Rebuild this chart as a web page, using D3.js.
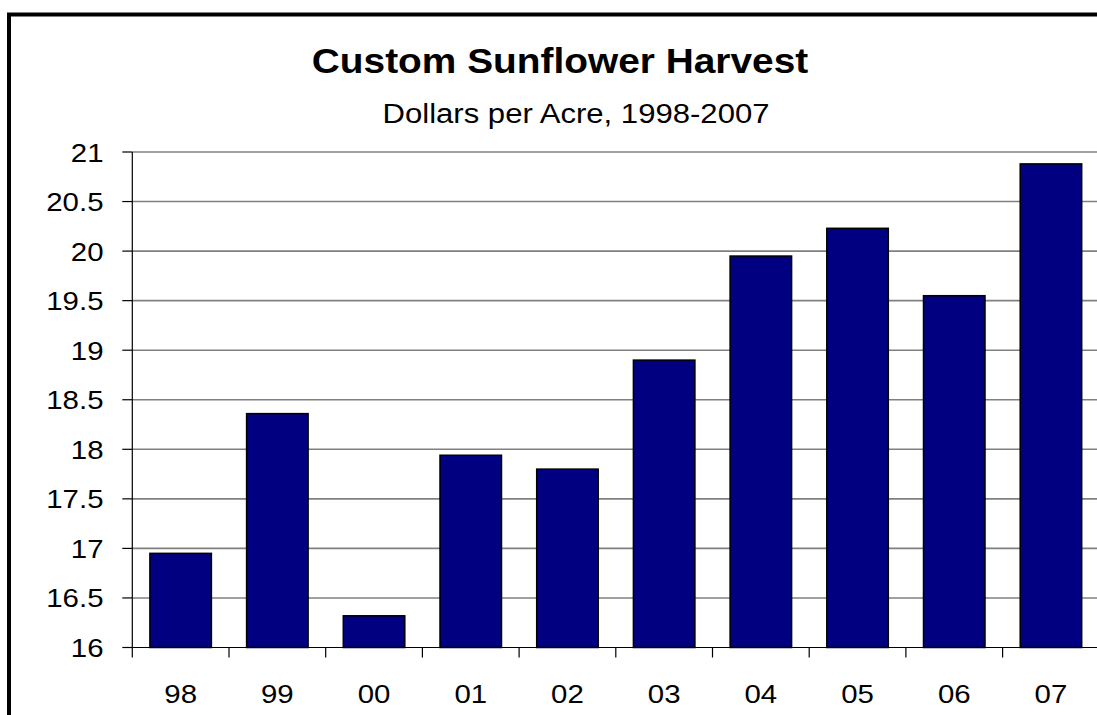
<!DOCTYPE html>
<meta charset="utf-8">
<head>
<script src="https://d3js.org/d3.v7.min.js"></script>
<style>
  body { margin: 0; background: #fff; }
  svg { display: block; font-family: "Liberation Sans", Arial, sans-serif; }
  .grid line { stroke: #808080; stroke-width: 1.6px; }
  .bar { fill: #000080; stroke: #000; stroke-width: 1.5px; }
</style>
</head>
<body>
<svg width="1097" height="715"></svg>
<script>
// data
var years = ["98", "99", "00", "01", "02", "03", "04", "05", "06", "07"];
var dollars = [16.95, 18.36, 16.32, 17.94, 17.80, 18.90, 19.95, 20.23, 19.55, 20.88];
var yTicks = [16, 16.5, 17, 17.5, 18, 18.5, 19, 19.5, 20, 20.5, 21];

var svg = d3.select("svg");
var stretch = 1.11; // text in the original is a bit wide

var plotLeft = 132.3, plotRight = 1099.3, plotTop = 152, plotBottom = 647.5;
var pad = 0.364;

var x = d3.scaleBand().domain(years).range([plotLeft, plotRight])
    .paddingInner(pad).paddingOuter(pad / 2);
var y = d3.scaleLinear().domain([16, 21]).range([plotBottom, plotTop]);
var step = x.step();

// frame
svg.append("rect")
    .attr("x", 9).attr("y", 14.5)
    .attr("width", 1200).attr("height", 800)
    .attr("fill", "none").attr("stroke", "#000").attr("stroke-width", 4);

// titles
function wideText(sel, tx, ty, size, weight, anchor, str) {
  sel.append("text")
      .attr("transform", "translate(" + tx + "," + ty + ") scale(" + stretch + ",1)")
      .attr("font-size", size + "px")
      .attr("font-weight", weight)
      .attr("text-anchor", anchor)
      .attr("fill", "#000")
      .text(str);
}
wideText(svg, 560, 73.3, 35, "bold", "middle", "Custom Sunflower Harvest");
wideText(svg, 576, 122.7, 28, "normal", "middle", "Dollars per Acre, 1998-2007");

// gridlines
svg.append("g").attr("class", "grid")
  .selectAll("line").data(yTicks.slice(1)).enter().append("line")
    .attr("x1", plotLeft).attr("x2", 1097)
    .attr("y1", function(d) { return y(d); })
    .attr("y2", function(d) { return y(d); });

// bars
svg.selectAll(".bar").data(dollars).enter().append("rect")
    .attr("class", "bar")
    .attr("x", function(d, i) { return x(years[i]); })
    .attr("y", function(d) { return y(d); })
    .attr("width", x.bandwidth())
    .attr("height", function(d) { return y(16) - y(d); });

// y axis
var yAxis = svg.append("g");
yAxis.append("line")
    .attr("x1", plotLeft).attr("x2", plotLeft).attr("y1", plotTop).attr("y2", plotBottom)
    .attr("stroke", "#000").attr("stroke-width", 1.2);
yAxis.selectAll(".tick").data(yTicks).enter().append("line")
    .attr("x1", plotLeft - 10).attr("x2", plotLeft)
    .attr("y1", function(d) { return y(d); })
    .attr("y2", function(d) { return y(d); })
    .attr("stroke", "#000").attr("stroke-width", 1.2);
yTicks.forEach(function(d) {
  wideText(yAxis, 103.5, y(d) + 9.5, 26.5, "normal", "end", String(d));
});

// x axis
var xAxis = svg.append("g");
xAxis.append("line")
    .attr("x1", plotLeft).attr("x2", 1097).attr("y1", plotBottom).attr("y2", plotBottom)
    .attr("stroke", "#000").attr("stroke-width", 1.2);
var bounds = years.map(function(d) { return x(d) - step * pad / 2; });
bounds.push(bounds[bounds.length - 1] + step);
xAxis.selectAll(".tick").data(bounds).enter().append("line")
    .attr("x1", function(d) { return d; })
    .attr("x2", function(d) { return d; })
    .attr("y1", plotBottom).attr("y2", plotBottom + 10)
    .attr("stroke", "#000").attr("stroke-width", 1.2);
years.forEach(function(d) {
  wideText(xAxis, x(d) + x.bandwidth() / 2, 703, 26.5, "normal", "middle", d);
});
</script>
</body>
